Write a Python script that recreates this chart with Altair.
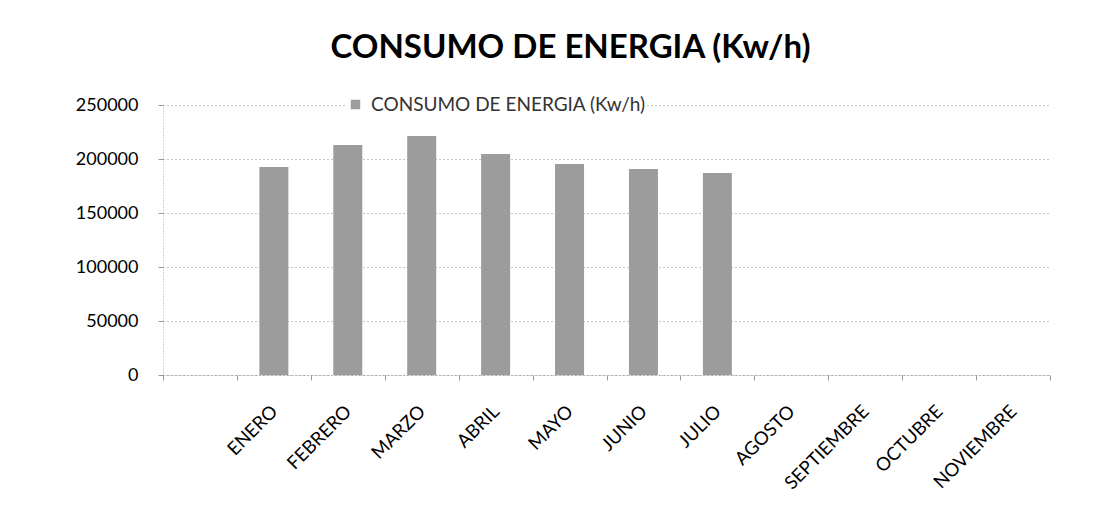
import altair as alt
import pandas as pd

categories = ["", "ENERO", "FEBRERO", "MARZO", "ABRIL", "MAYO", "JUNIO", "JULIO",
              "AGOSTO", "SEPTIEMBRE", "OCTUBRE", "NOVIEMBRE"]
values = [None, 192600, 213000, 221300, 204600, 195400, 190700, 187000,
          None, None, None, None]
series_name = "CONSUMO DE ENERGIA (Kw/h)"
y_ticks = [0, 50000, 100000, 150000, 200000, 250000]

df = pd.DataFrame({"mes": categories, "consumo": values, "serie": series_name})
df = df.dropna()

FONT = "Lato"

chart = alt.Chart(df).mark_bar(size=29).encode(
    x=alt.X("mes:N", sort=categories,
            scale=alt.Scale(domain=categories, paddingInner=0, paddingOuter=0),
            axis=alt.Axis(title=None, labelAngle=-45, labelFontSize=18.5,
                          labelFont=FONT, labelColor="#000000", labelPadding=28,
                          labelAlign="right", labelBaseline="middle", labelLimit=0,
                          domainColor="#999999", domainDash=[1, 2],
                          tickColor="#999999", tickSize=5, tickBand="extent",
                          grid=False)),
    y=alt.Y("consumo:Q", scale=alt.Scale(domain=[0, 250000], nice=False),
            axis=alt.Axis(title=None, values=y_ticks, format="d", labelFontSize=18,
                          labelFont=FONT, labelColor="#000000", labelPadding=20,
                          grid=True, gridColor="#888888", gridDash=[1, 3],
                          domainColor="#aaaaaa", domainDash=[1, 2],
                          tickColor="#999999", tickSize=5)),
    color=alt.Color("serie:N", scale=alt.Scale(range=["#9c9c9c"]),
                    legend=alt.Legend(title=None, orient="none", legendX=183, legendY=-10,
                                      direction="horizontal", labelFont=FONT,
                                      labelFontSize=19, labelColor="#333333",
                                      labelLimit=0, labelOffset=6,
                                      symbolType="square", symbolSize=90,
                                      fillColor="#ffffff")),
).properties(
    width=887, height=270,
    padding={"left": 155, "top": 97, "right": 48, "bottom": 134},
    autosize=alt.AutoSizeParams(type="none"),
    title=alt.Title(series_name, font=FONT, fontSize=33, fontWeight="bold",
                    color="#000000", anchor="middle", dx=-36, offset=30),
).configure_view(stroke=None)

chart.save("out.html", embed_options={"renderer": "svg", "actions": False})
